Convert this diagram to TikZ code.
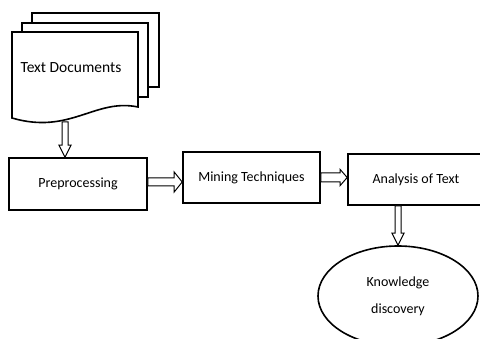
\documentclass[tikz,border=0pt]{standalone}
\usepackage{fontspec}
\setmainfont{Carlito}
\usetikzlibrary{calc}
\usetikzlibrary{shapes.geometric}
\tikzset{%
  stepbox/.style={rectangle, draw=black, line width=1.6pt, fill=white, inner sep=0pt},
  docpage/.style={draw=black, line width=1.6pt, fill=white},
  hollow/.style={draw=black, line width=1pt, fill=white, line join=miter}
}
% hollow block arrow: from, to, shaft half width, head half width, head length
\newcommand\hollowarrow[5]{%
  \draw [hollow] let \p1=(#1), \p2=(#2),
      \n1={atan2(\y2-\y1,\x2-\x1)}, \n2={veclen(\x2-\x1,\y2-\y1)} in
    [shift={(\p1)}, rotate=\n1]
    (0,-#3) -- (\n2-#5,-#3) -- (\n2-#5,-#4) -- (\n2,0) -- (\n2-#5,#4)
    -- (\n2-#5,#3) -- (0,#3) -- cycle;
}

\begin{document}
\begin{tikzpicture}[x=1pt, y=-1pt, font=\fontsize{14}{17}\selectfont]
  \useasboundingbox (0,0) rectangle (480,339);

% stack of documents
\draw [docpage] (32,13) rectangle (159,87);
\draw [docpage] (22,23) rectangle (148,97);
\draw [docpage] (12,32) -- (138,32) -- (138,107)
   .. controls (95,98) and (70,135) .. (12,118) -- cycle;
\node [font=\fontsize{15.5}{18}\selectfont] (docs) at (71,68) {Text Documents};
\coordinate (docbot) at (65,122);

% processing steps
\node [stepbox, minimum width=138pt, minimum height=52pt] (pre) at (78,184) {Preprocessing};
\node [stepbox, minimum width=137pt, minimum height=51pt] (mine) at (251.5,177.5) {Mining Techniques};
\node [stepbox, minimum width=136pt, minimum height=51pt] (ana) at (416,179.5) {Analysis of Text};
\node [ellipse, draw=black, line width=1.6pt, minimum width=160pt, minimum height=100pt,
       align=center, font=\fontsize{14}{27}\selectfont] (kd) at (398,296) {Knowledge\\discovery};

\hollowarrow{docbot}{docbot |- pre.north}{3}{6}{12}
\hollowarrow{$(pre.east)+(0,-2)$}{$(pre.east -| mine.west)+(0,-2)$}{4}{10}{8}
\hollowarrow{mine.east}{mine.east -| ana.west}{4.5}{8}{7}
\hollowarrow{ana.south -| kd.north}{kd.north}{3}{6}{12}

\end{tikzpicture}
\end{document}
